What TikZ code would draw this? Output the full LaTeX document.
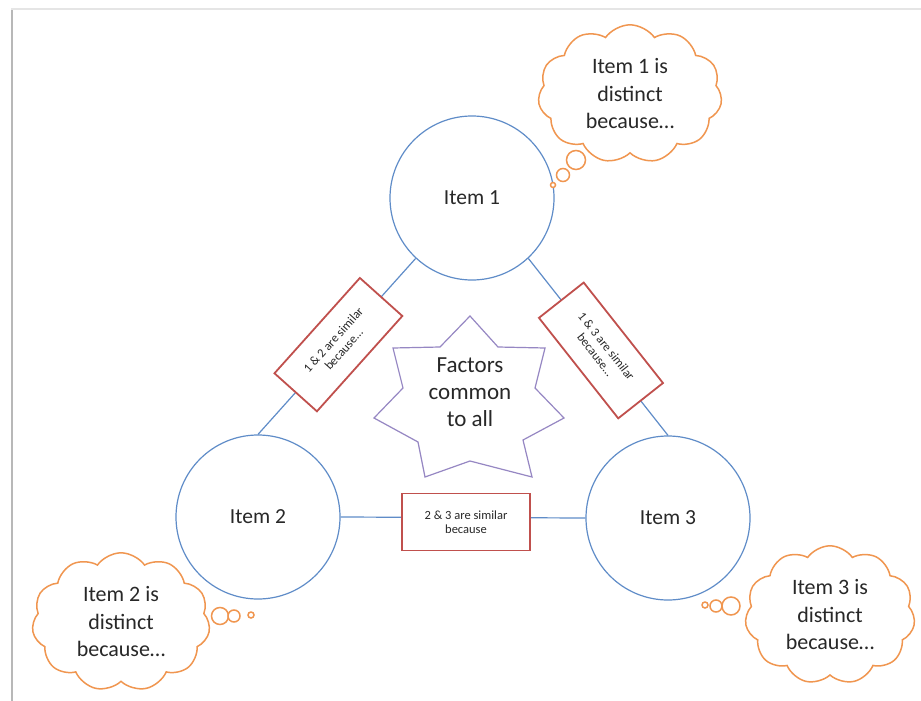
\documentclass[tikz,border=0pt]{standalone}
\usepackage{fontspec}
\setmainfont{Carlito}
\usetikzlibrary{shapes.symbols,shapes.geometric}
\definecolor{cblue}{RGB}{95,140,200}
\definecolor{cred}{RGB}{192,80,77}
\definecolor{cpurple}{RGB}{150,135,195}
\definecolor{corange}{RGB}{240,150,80}
\definecolor{ctext}{RGB}{40,40,40}
\begin{document}
\begin{tikzpicture}[x=1pt,y=-1pt,
 item/.style={circle, draw=cblue, line width=1.2pt, minimum size=164pt, inner sep=0pt, font=\fontsize{21.5}{24}\selectfont, text=ctext},
 link/.style={draw=cblue, line width=1.2pt},
 simbox/.style={rectangle, draw=cred, line width=1.8pt, fill=white, minimum width=128pt, minimum height=57pt, align=center, font=\fontsize{12.5}{14}\selectfont, text=ctext, inner sep=2pt},
 thought/.style={cloud, cloud puffs=11, cloud puff arc=110, draw=corange, line width=1.5pt, align=center, font=\fontsize{22}{27.5}\selectfont, text=ctext, inner sep=0pt},
 bubble/.style={circle, draw=corange, line width=1.5pt, fill=white, inner sep=0pt},
 startxt/.style={align=center, font=\fontsize{23}{27}\selectfont, text=ctext},
]
\useasboundingbox (0,0) rectangle (921,701);
\fill[white] (0,0) rectangle (921,701);
% page edge
\draw[black!10, line width=2pt] (12,703) -- (12,9) -- (925,9);
\draw[black!28, line width=1.2pt] (12,703) -- (12,10);

% items
\node[item] (i1) at (472,198) {Item 1};
\node[item] (i2) at (258,517) {Item 2};
\node[item] (i3) at (668,518) {Item 3};

% links with similarity boxes
\draw[link] (i1.227) -- node[simbox, sloped, pos=0.49] (b12) {1 \& 2 are similar\\because…} (i2.north);
\draw[link] (i1.313) -- node[simbox, sloped, pos=0.52] (b13) {1 \& 3 are similar\\because…} (i3.north);
\draw[link] (i2.east) -- (i3.west);
\node[simbox] (b23) at (466,522) {2 \& 3 are similar\\because};

% star
\draw[cpurple, line width=1.2pt, fill=white] (470,316) -- (498,347) -- (545,348) -- (535,388) -- (564,418) -- (523,440) -- (532,477) -- (470,461) -- (425,477) -- (418,442) -- (374,418) -- (403,388) -- (393,348) -- (440,347) -- cycle;
\node[startxt] (fac) at (470,392) {Factors\\common\\to all};

% thought clouds
\node[thought, minimum width=184pt, minimum height=128pt] (t1) at (630,94) {Item 1 is\\distinct\\because…};
\node[bubble, minimum size=19pt] (t1a) at (576,160) {};
\node[bubble, minimum size=13pt] (t1b) at (563,175) {};
\node[bubble, minimum size=5pt] (t1c) at (553,185) {};

\node[thought, minimum width=178pt, minimum height=113pt] (t2) at (121,622) {Item 2 is\\distinct\\because…};
\node[bubble, minimum size=17pt] (t2a) at (220,616) {};
\node[bubble, minimum size=12pt] (t2b) at (234,616) {};
\node[bubble, minimum size=6pt] (t2c) at (251,615) {};

\node[thought, minimum width=170pt, minimum height=130pt] (t3) at (830,615) {Item 3 is\\distinct\\because…};
\node[bubble, minimum size=18pt] (t3a) at (731,606) {};
\node[bubble, minimum size=12pt] (t3b) at (716,606) {};
\node[bubble, minimum size=6pt] (t3c) at (705,605) {};
\end{tikzpicture}
\end{document}
